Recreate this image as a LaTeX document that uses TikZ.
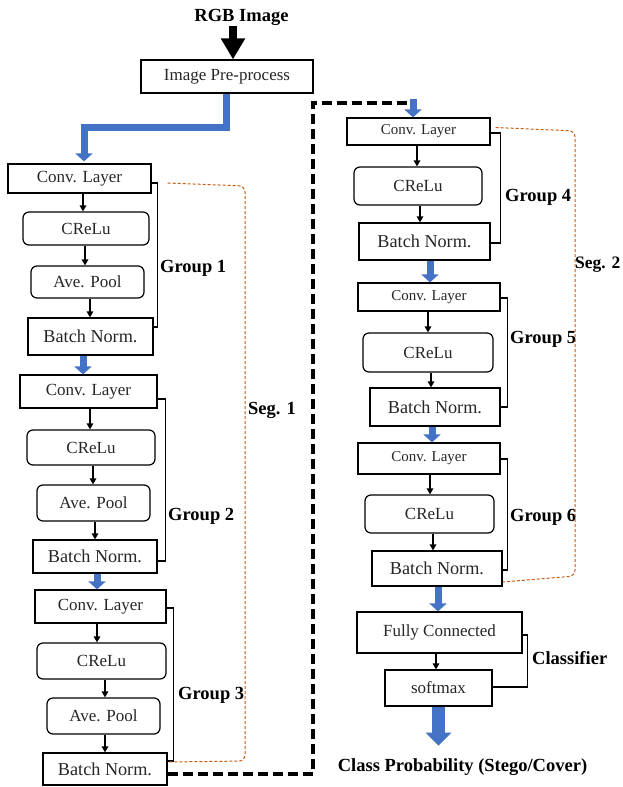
\documentclass[tikz,border=0pt]{standalone}
\usepackage{fontspec}
\setmainfont{Liberation Serif}
\usetikzlibrary{arrows.meta}
\definecolor{bblue}{HTML}{4472C4}
\definecolor{segc}{HTML}{C55A11}
\definecolor{txt}{HTML}{262626}
\tikzset{
 box/.style={draw, line width=1.2pt, inner sep=0pt, text=txt, font=\fontsize{17}{17}\selectfont},
 rbox/.style={box, rounded corners=6pt},
 sbox/.style={box, font=\fontsize{15}{15}\selectfont},
 bnbox/.style={box, font=\fontsize{18.2}{18.2}\selectfont},
 lab/.style={anchor=west, inner sep=0pt, font=\fontsize{18.5}{18.5}\selectfont\bfseries},
 brk/.style={line width=1.6pt, line join=miter},
 sarr/.style={line width=1.4pt, -{Triangle[length=6pt,width=6.5pt]}},
 blu/.style={color=bblue, line width=7pt, line join=miter, -{Triangle[length=8pt,width=17pt]}},
 seg/.style={draw=segc, line width=1pt, dash pattern=on 3pt off 2pt, rounded corners=6pt},
 blkdash/.style={line width=3.5pt, dash pattern=on 10pt off 5pt},
}
\newcommand{\myarr}[3]{\draw[sarr] ([xshift=#3]#1.south) -- ([xshift=#3]#1.south |- #2.north);}
\begin{document}
\begin{tikzpicture}[x=1pt,y=-1pt]
\useasboundingbox (0,0) rectangle (622,787);
% title and preprocess
\node[inner sep=0.5pt, font=\fontsize{18.5}{18.5}\selectfont\bfseries] (rgb) at (241.5,17) {RGB Image};
\node[box, minimum width=172pt, minimum height=33pt] (pre) at (227,76.5) {Image Pre-process};
% group 1
\node[box, minimum width=143pt, minimum height=29pt] (c1) at (79.5,178.5) {Conv. Layer};
\node[rbox, minimum width=126pt, minimum height=33pt] (r1) at (86,228.5) {CReLu};
\node[rbox, minimum width=113pt, minimum height=32pt] (a1) at (87.5,282) {Ave. Pool};
\node[bnbox, minimum width=125pt, minimum height=37pt] (b1) at (90.5,336.5) {Batch Norm.};
% group 2
\node[box, minimum width=137pt, minimum height=33pt] (c2) at (88.5,391.5) {Conv. Layer};
\node[rbox, minimum width=128pt, minimum height=35pt] (r2) at (91,447.5) {CReLu};
\node[rbox, minimum width=113pt, minimum height=36pt] (a2) at (93.5,503) {Ave. Pool};
\node[bnbox, minimum width=124pt, minimum height=33pt] (b2) at (95,556.5) {Batch Norm.};
% group 3
\node[box, minimum width=131pt, minimum height=33pt] (c3) at (100.5,606.5) {Conv. Layer};
\node[rbox, minimum width=129pt, minimum height=36pt] (r3) at (101.5,661) {CReLu};
\node[rbox, minimum width=113pt, minimum height=36pt] (a3) at (103.5,716) {Ave. Pool};
\node[bnbox, minimum width=124pt, minimum height=32pt] (b3) at (105,769) {Batch Norm.};
% group 4
\node[sbox, minimum width=143pt, minimum height=27pt] (c4) at (418.5,131.5) {Conv. Layer};
\node[rbox, minimum width=128pt, minimum height=38pt] (r4) at (418,186) {CReLu};
\node[bnbox, minimum width=131pt, minimum height=37pt] (b4) at (424.5,241.5) {Batch Norm.};
% group 5
\node[sbox, minimum width=142pt, minimum height=28pt] (c5) at (429,297) {Conv. Layer};
\node[rbox, minimum width=130pt, minimum height=39pt] (r5) at (428,352.5) {CReLu};
\node[bnbox, minimum width=130pt, minimum height=38pt] (b5) at (435,407) {Batch Norm.};
% group 6
\node[sbox, minimum width=142pt, minimum height=31pt] (c6) at (429,458.5) {Conv. Layer};
\node[rbox, minimum width=129pt, minimum height=38pt] (r6) at (429.5,514) {CReLu};
\node[bnbox, minimum width=130pt, minimum height=35pt] (b6) at (437,568.5) {Batch Norm.};
% classifier
\node[box, minimum width=165pt, minimum height=41pt] (fc) at (439.5,632.5) {Fully Connected};
\node[box, minimum width=107pt, minimum height=36pt] (sm) at (438.5,688) {softmax};
\node[inner sep=0pt, font=\fontsize{18.5}{18.5}\selectfont\bfseries] (out) at (462.5,767) {Class Probability (Stego/Cover)};
% labels
\node[lab] (g1) at (160,268) {Group 1};
\node[lab] (g2) at (168,516) {Group 2};
\node[lab] (g3) at (178,695) {Group 3};
\node[lab] (g4) at (505,197) {Group 4};
\node[lab] (g5) at (510,339) {Group 5};
\node[lab] (g6) at (510,517) {Group 6};
\node[lab] (cl) at (532,658) {Classifier};
\node[lab] (s1) at (248,410) {Seg. 1};
\node[lab, font=\fontsize{17.5}{17.5}\selectfont\bfseries] (s2) at (575,265) {Seg. 2};
% small arrows
\myarr{c1}{r1}{3.5} \myarr{r1}{a1}{-1} \myarr{a1}{b1}{2.5}
\myarr{c2}{r2}{1.5} \myarr{r2}{a2}{2} \myarr{a2}{b2}{1.5}
\myarr{c3}{r3}{-3.5} \myarr{r3}{a3}{3.5} \myarr{a3}{b3}{1.5}
\myarr{c4}{r4}{-1.5} \myarr{r4}{b4}{2}
\myarr{c5}{r5}{-1} \myarr{r5}{b5}{3}
\myarr{c6}{r6}{1} \myarr{r6}{b6}{3.5}
\myarr{fc}{sm}{-3.5}
% brackets
\draw[brk] ([yshift=-4.5]c1.east) -- ++(6,0) |- ([yshift=9.5]b1.east);
\draw[brk] ([yshift=-7.5]c2.east) -- ++(8,0) |- ([yshift=-4.5]b2.east);
\draw[brk] ([yshift=-1.5]c3.east) -- ++(7,0) |- ([yshift=8]b3.east);
\draw[brk] ([yshift=-1.5]c4.east) -- ++(10,0) |- ([yshift=-1.5]b4.east);
\draw[brk] ([yshift=-1]c5.east) -- ++(7,0) |- (b5.east);
\draw[brk] ([yshift=-0.5]c6.east) -- ++(7,0) |- ([yshift=-1.5]b6.east);
\draw[brk] ([yshift=-2.5]fc.east) -- ++(5,0) |- ([yshift=1]sm.east);
% segments
\draw[seg] ([xshift=16,yshift=-4.5]c1.east) -- (245,186) -- (245,761) -- ([yshift=7]b3.east);
\draw[seg] ([xshift=5,yshift=4]c4.east) -- (575,131) -- (575,576) -- ([yshift=-13.5]b6.east);
% black dashed link
\coordinate (dtop) at (313,103);
\coordinate (dend) at (411,103);
\draw[blkdash] ([yshift=-5]b3.east) -| (dtop) -- (dend);
% thick arrows
\draw[line width=8pt, -{Triangle[length=21pt,width=23pt]}] ([xshift=-8.5]rgb.south) -- ([xshift=6]pre.north);
\draw[blu] ([xshift=-1]pre.south) -- ++(0,34) -| ([xshift=4.5,yshift=2]c1.north);
\draw[blu] ([xshift=-7.5]b1.south) -- ([xshift=-7.5]b1.south |- c2.north);
\draw[blu] ([xshift=2]b2.south) -- ([xshift=2]b2.south |- c3.north);
\draw[blu] ([xshift=-5.5,yshift=18]c4.north) -- ([xshift=-5.5]c4.north);
\draw[blu] ([xshift=5.5]b4.south) -- ([xshift=5.5]b4.south |- c5.north);
\draw[blu] ([xshift=-3]b5.south) -- ([xshift=-3]b5.south |- c6.north);
\draw[blu] ([xshift=1]b6.south) -- ([xshift=1]b6.south |- fc.north);
\draw[color=bblue, line width=13pt, -{Triangle[length=13pt,width=25pt]}] (sm.south) -- ++(0,39);
\end{tikzpicture}
\end{document}
